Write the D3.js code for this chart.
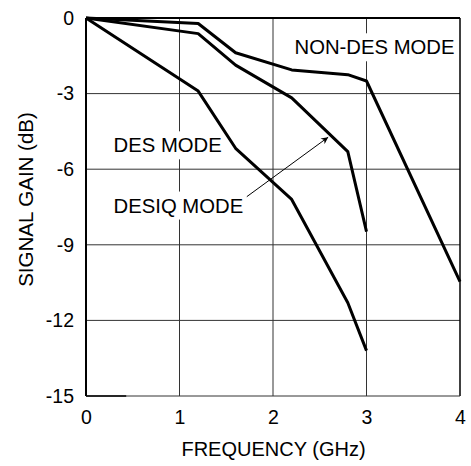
<!DOCTYPE html>
<html><head><meta charset="utf-8">
<script src="https://cdn.jsdelivr.net/npm/d3@7"></script>
<style>
html,body{margin:0;padding:0;background:#fff;}
svg{display:block;font-family:"Liberation Sans",Arial,sans-serif;}
</style></head>
<body>
<svg id="chart" width="471" height="466"></svg>
<script>
// ---- data ----
const xTicks = [0, 1, 2, 3, 4];
const yTicks = [0, -3, -6, -9, -12, -15];
const yTickLabels = ["0", "-3", "-6", "-9", "-12", "-15"];
const freqNonDes = [0, 1.2, 1.6, 2.2, 2.8, 3.0, 4.0];
const gainNonDes = [0, -0.22, -1.38, -2.06, -2.25, -2.5, -10.46];
const freqDes = [0, 1.2, 1.6, 2.2, 2.8, 3.0];
const gainDes = [0, -0.62, -1.87, -3.17, -5.3, -8.48];
const freqDesiq = [0, 1.2, 1.6, 2.2, 2.8, 3.0];
const gainDesiq = [0, -2.9, -5.17, -7.2, -11.3, -13.2];
const xTitle = "FREQUENCY (GHz)";
const yTitle = "SIGNAL GAIN (dB)";
const labels = [
  {text: "NON-DES MODE", f: 2.23, g: -1.44},
  {text: "DES MODE", f: 0.295, g: -5.33},
  {text: "DESIQ MODE", f: 0.295, g: -7.72}
];
const arrowFrom = [1.72, -7.09];
const arrowTo = [2.59, -4.73];

// ---- scales ----
const svg = d3.select("#chart");
const x = d3.scaleLinear().domain([0, 4]).range([86, 460]);
const y = d3.scaleLinear().domain([-15, 0]).range([396, 18]);

// grid
const grid = svg.append("g").attr("stroke", "#333").attr("stroke-width", 1);
grid.selectAll("line.v").data(xTicks.slice(1, -1)).join("line")
  .attr("x1", d => x(d)).attr("x2", d => x(d)).attr("y1", y(0)).attr("y2", y(-15));
grid.selectAll("line.h").data(yTicks.slice(1, -1)).join("line")
  .attr("y1", d => y(d)).attr("y2", d => y(d)).attr("x1", x(0)).attr("x2", x(4));

// labels with white background (drawn before curves)
const lab = svg.append("g");
labels.forEach(l => {
  const t = lab.append("text").attr("x", x(l.f)).attr("y", y(l.g))
    .attr("font-size", 20.3).attr("fill", "#000").text(l.text);
  const b = t.node().getBBox();
  lab.insert("rect", "text").attr("x", b.x - 2).attr("y", b.y - 3)
    .attr("width", b.width + 4).attr("height", b.height + 6).attr("fill", "#fff");
});

// frame
const fr = svg.append("g").attr("stroke", "#000").attr("fill", "none");
fr.append("line").attr("x1", x(0)).attr("x2", x(4)).attr("y1", y(0)).attr("y2", y(0)).attr("stroke-width", 2);
fr.append("line").attr("x1", x(0)).attr("x2", x(0)).attr("y1", y(0)).attr("y2", y(-15)).attr("stroke-width", 2);
fr.append("line").attr("x1", x(4)).attr("x2", x(4)).attr("y1", y(0)).attr("y2", y(-15)).attr("stroke-width", 1.5);
fr.append("line").attr("x1", x(0)).attr("x2", x(4)).attr("y1", y(-15)).attr("y2", y(-15)).attr("stroke-width", 1).attr("stroke", "#333");
fr.append("line").attr("x1", x(0)).attr("x2", x(0.43)).attr("y1", y(-15)).attr("y2", y(-15)).attr("stroke-width", 1.6);

// axes
const xAxis = svg.append("g").attr("transform", `translate(0,${y(-15)})`)
  .call(d3.axisBottom(x).tickValues(xTicks).tickFormat(d3.format("d")).tickSize(0).tickPadding(14.5));
const yAxis = svg.append("g").attr("transform", `translate(${x(0)},0)`)
  .call(d3.axisLeft(y).tickValues(yTicks).tickFormat((d, i) => yTickLabels[i]).tickSize(0).tickPadding(12));
[xAxis, yAxis].forEach(a => {
  a.select(".domain").remove();
  a.selectAll("text").attr("font-size", 19.5).attr("fill", "#000").attr("font-family", "Liberation Sans, Arial, sans-serif");
});

svg.append("text").attr("x", 273.5).attr("y", 456)
  .attr("text-anchor", "middle").attr("font-size", 20).text(xTitle);
svg.append("text").attr("transform", `translate(33,${(y(0) + y(-15)) / 2 - 7.5}) rotate(-90)`)
  .attr("text-anchor", "middle").attr("font-size", 20.5).text(yTitle);

// curves
const line = d3.line().x(d => x(d[0])).y(d => y(d[1]));
const series = [
  d3.zip(freqNonDes, gainNonDes),
  d3.zip(freqDes, gainDes),
  d3.zip(freqDesiq, gainDesiq)
];
svg.append("g").selectAll("path").data(series).join("path")
  .attr("d", line).attr("fill", "none").attr("stroke", "#000")
  .attr("stroke-width", 3).attr("stroke-linejoin", "round");

// arrow
svg.append("defs").append("marker").attr("id", "ah")
  .attr("viewBox", "0 0 10 10").attr("refX", 10).attr("refY", 5)
  .attr("markerWidth", 9).attr("markerHeight", 7).attr("markerUnits", "userSpaceOnUse")
  .attr("orient", "auto")
  .append("path").attr("d", "M0,0 L10,5 L0,10 L3,5 Z").attr("fill", "#000");
svg.append("line")
  .attr("x1", x(arrowFrom[0])).attr("y1", y(arrowFrom[1]))
  .attr("x2", x(arrowTo[0])).attr("y2", y(arrowTo[1]))
  .attr("stroke", "#000").attr("stroke-width", 1).attr("marker-end", "url(#ah)");
</script>
</body></html>
